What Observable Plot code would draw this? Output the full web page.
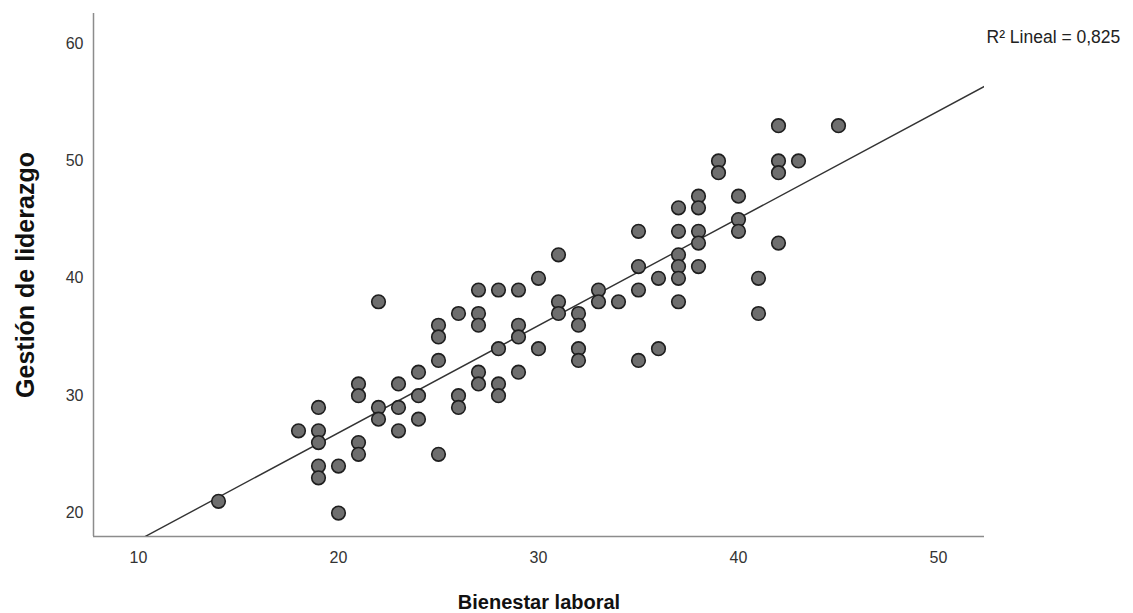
<!DOCTYPE html>
<html>
<head>
<meta charset="utf-8">
<script src="https://cdn.jsdelivr.net/npm/d3@7"></script>
<script src="https://cdn.jsdelivr.net/npm/@observablehq/plot@0.6"></script>
<style>
  html, body { margin: 0; padding: 0; background: #fff; }
  #chart svg { display: block; }
</style>
</head>
<body>
<div id="chart"></div>
<script>
// Bienestar laboral (x) and Gestión de liderazgo (y) values, grouped by x
const xValues = [14, 18, 19, 20, 21, 22, 23, 24, 25, 26, 27, 28, 29, 30, 31, 32, 33, 34, 35, 36, 37, 38, 39, 40, 41, 42, 43, 45];
const yGroups = [
  [21],
  [27],
  [29, 27, 26, 24, 23],
  [24, 20],
  [31, 30, 26, 25],
  [38, 29, 28],
  [31, 29, 27],
  [32, 30, 28],
  [36, 35, 33, 25],
  [37, 30, 29],
  [39, 37, 36, 32, 31],
  [39, 34, 31, 30],
  [39, 36, 35, 32],
  [40, 34],
  [42, 38, 37],
  [37, 36, 34, 33],
  [39, 38],
  [38],
  [44, 41, 39, 33],
  [40, 34],
  [46, 44, 42, 41, 40, 38],
  [47, 46, 44, 43, 41],
  [50, 49],
  [47, 45, 44],
  [40, 37],
  [53, 50, 49, 43],
  [50],
  [53]
];
const xTicks = [10, 20, 30, 40, 50];
const yTicks = [20, 30, 40, 50, 60];
const xLabel = "Bienestar laboral";
const yLabel = "Gestión de liderazgo";
const r2Text = "R² Lineal = 0,825";
const xDomain = [7.75, 52.3];
const yDomain = [18.0, 62.56];

const data = xValues.flatMap((x, i) => yGroups[i].map(y => ({x, y})));

// least-squares fit
const mx = d3.mean(data, d => d.x), my = d3.mean(data, d => d.y);
const slope = d3.sum(data, d => (d.x - mx) * (d.y - my)) / d3.sum(data, d => (d.x - mx) ** 2);
const intercept = my - slope * mx;
const fit = xDomain.map(x => ({x, y: intercept + slope * x}));

const font = "'Liberation Sans', Arial, sans-serif";

const chart = Plot.plot({
  width: 1133,
  height: 613,
  marginLeft: 93,
  marginRight: 149,
  marginTop: 13,
  marginBottom: 77,
  style: {fontFamily: font, background: "#fff", overflow: "visible"},
  x: {domain: xDomain, ticks: xTicks, tickSize: 0, tickPadding: 15, label: null},
  y: {domain: yDomain, ticks: yTicks, tickSize: 0, tickPadding: 10, label: null},
  marks: [
    Plot.axisX({ticks: xTicks, tickSize: 0, tickPadding: 15, fontSize: 16, fill: "#333", label: null}),
    Plot.axisY({ticks: yTicks, tickSize: 0, tickPadding: 10, fontSize: 16, fill: "#333", label: null}),
    Plot.ruleX([xDomain[0]], {stroke: "#8c8c8c", strokeWidth: 1.5}),
    Plot.ruleY([yDomain[0]], {stroke: "#8c8c8c", strokeWidth: 1.5}),
    Plot.line(fit, {x: "x", y: "y", stroke: "#333", strokeWidth: 1.4, clip: true}),
    Plot.dot(data, {x: "x", y: "y", r: 6.8, fill: "#6e6e6e", fillOpacity: 1, stroke: "#1e1e1e", strokeWidth: 1.6}),
    Plot.text([r2Text], {frameAnchor: "top-right", dx: 2, dy: 17, textAnchor: "start", fontSize: 17.5, fill: "#222", text: d => d}),
    Plot.text([xLabel], {frameAnchor: "bottom", dy: 72, fontSize: 20, fontWeight: "bold", fill: "#111", text: d => d, lineAnchor: "bottom"}),
    Plot.text([yLabel], {frameAnchor: "left", dx: -68, rotate: -90, textAnchor: "middle", fontSize: 25, fontWeight: "bold", fill: "#111", text: d => d})
  ]
});
document.getElementById("chart").appendChild(chart);
</script>
</body>
</html>
